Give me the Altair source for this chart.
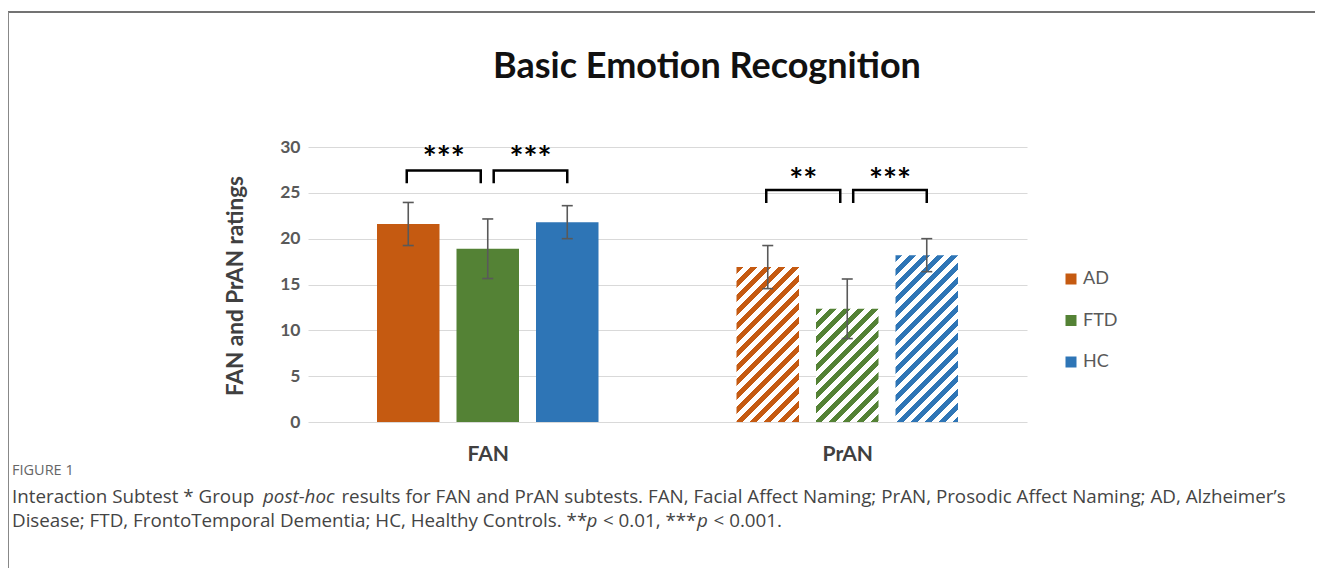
import altair as alt
import pandas as pd

# ---------------- data ----------------
subtests = ["FAN", "PrAN"]
groups = ["AD", "FTD", "HC"]
fan_means = [21.6, 18.9, 21.8]
fan_errors = [2.35, 3.25, 1.8]
pran_means = [16.9, 12.35, 18.2]
pran_errors = [2.35, 3.25, 1.8]
group_colors = ["#C55A11", "#548235", "#2E75B6"]

bracket_pairs = [("AD", "FTD"), ("FTD", "HC")]
fan_stars = ["***", "***"]
pran_stars = ["**", "***"]
bracket_tops = [27.45, 25.3]
bracket_leg = 1.4
star_levels = [29.4, 27.0]
y_ticks = [0, 5, 10, 15, 20, 25, 30]

title_text = "Basic Emotion Recognition"
y_title = "FAN and PrAN ratings"
fig_label = "FIGURE 1"

# ---------------- layout constants ----------------
PLOT_W, PLOT_H = 719, 275
PAD_L, PAD_T = 300, 139
TOTAL_W, TOTAL_H = 1307, 560
OX, OY = 308, 147            # page position of plot origin
BAND_PX = PLOT_W / 2
STEP = 79.5 / BAND_PX
HALF = 31.25 / BAND_PX
CAP = 5.5 / BAND_PX
GAP = 7 / BAND_PX
FONT = "Lato"
CAP_FONT = "Open Sans"

def pos(si, gi):
    return si + (gi - 1) * STEP

rows = []
for si, sub in enumerate(subtests):
    means = fan_means if sub == "FAN" else pran_means
    errs = fan_errors if sub == "FAN" else pran_errors
    for gi, g in enumerate(groups):
        xc = pos(si, gi)
        rows.append(dict(subtest=sub, group=g, mean=means[gi], lo=means[gi] - errs[gi],
                         hi=means[gi] + errs[gi], xc=xc, xl=xc - HALF, xr=xc + HALF,
                         cl=xc - CAP, cr=xc + CAP))
df = pd.DataFrame(rows)

brows, srows = [], []
for si, sub in enumerate(subtests):
    top = bracket_tops[si]
    bot = top - bracket_leg
    stars = fan_stars if sub == "FAN" else pran_stars
    for j, (a, b) in enumerate(bracket_pairs):
        xa = pos(si, groups.index(a)) + (GAP * 0.85 if a == "FTD" else -1.5 / BAND_PX)
        xb = pos(si, groups.index(b)) - (GAP if b == "FTD" else 0)
        bid = f"{sub}{j}"
        for k, (px, py) in enumerate([(xa, bot), (xa, top), (xb, top), (xb, bot)]):
            brows.append(dict(bid=bid, k=k, bx=px, by=py))
        srows.append(dict(sx=(xa + xb) / 2, sy=star_levels[si], txt=stars[j]))
bdf = pd.DataFrame(brows)
sdf = pd.DataFrame(srows)
one = pd.DataFrame({"a": [0]})

# ---------------- scales / axes ----------------
xs = alt.Scale(domain=[-0.5, 1.5], nice=False, zero=False)
ys = alt.Scale(domain=[0, 30], nice=False)
x_axis = alt.Axis(values=[0, 1], labelExpr="datum.value == 0 ? 'FAN' : 'PrAN'", grid=False,
                  domain=False, ticks=False, labelFont=FONT, labelFontSize=21,
                  labelFontWeight="bold", labelColor="#404040", labelPadding=21,
                  labelOverlap=False, title=None)
y_axis = alt.Axis(values=y_ticks, grid=True, gridColor="#d9d9d9", gridWidth=1, domain=False,
                  ticks=False, labelFont=FONT, labelFontSize=17.5, labelFontWeight="bold",
                  labelColor="#595959", labelPadding=8, title=y_title, titleFont=FONT,
                  titleFontSize=22.5, titleFontWeight="bold", titleColor="#404040",
                  titleX=-73, titleY=PLOT_H / 2 + 1, titleAngle=-90, titleAlign="center",
                  titleBaseline="middle")

def X(f):
    return alt.X(f, scale=xs, axis=x_axis)

def Y(f):
    return alt.Y(f, scale=ys, axis=y_axis)

base = alt.Chart(df)

fan_bars = base.transform_filter(alt.datum.subtest == "FAN").mark_bar().encode(
    x=X("xl:Q"), x2="xr:Q", y=Y("mean:Q"), y2=alt.datum(0),
    color=alt.Color("group:N", scale=alt.Scale(domain=groups, range=group_colors),
                    legend=alt.Legend(orient="none", legendX=754, legendY=123, title=None,
                                      symbolType="square", symbolSize=121,
                                      symbolStrokeWidth=0, labelFont=FONT, labelFontSize=18,
                                      labelColor="#595959", rowPadding=23.5, labelOffset=3,
                                      padding=0)))

def stripe_gradient(color, w, h, period=14.0, frac=0.5):
    total = w + h
    c = total / (w * w + h * h)
    stops = []
    k = 0
    while k * period < total:
        a = k * period / total
        b = min((k * period + period * frac) / total, 1.0)
        e = min((k + 1) * period / total, 1.0)
        stops += [alt.GradientStop(offset=a, color=color), alt.GradientStop(offset=b, color=color),
                  alt.GradientStop(offset=b, color="white"), alt.GradientStop(offset=e, color="white")]
        k += 1
    return alt.LinearGradient(gradient="linear", stops=stops, x1=0, y1=0, x2=c * w, y2=c * h)

pran_layers = []
for gi, g in enumerate(groups):
    h_px = pran_means[gi] / 30 * PLOT_H
    grad = stripe_gradient(group_colors[gi], 2 * HALF * BAND_PX, h_px)
    pran_layers.append(
        base.transform_filter((alt.datum.subtest == "PrAN") & (alt.datum.group == g))
        .mark_bar(color=grad)
        .encode(x=X("xl:Q"), x2="xr:Q", y=Y("mean:Q"), y2=alt.datum(0)))

err_col = "#595959"
err_v = base.mark_rule(color=err_col, strokeWidth=1.6).encode(x=X("xc:Q"), y=Y("lo:Q"), y2="hi:Q")
err_hi = base.mark_rule(color=err_col, strokeWidth=1.6).encode(x=X("cl:Q"), x2="cr:Q", y=Y("hi:Q"))
err_lo = base.mark_rule(color=err_col, strokeWidth=1.6).encode(x=X("cl:Q"), x2="cr:Q", y=Y("lo:Q"))

brackets = alt.Chart(bdf).mark_line(color="black", strokeWidth=2.5, strokeJoin="miter").encode(
    x=X("bx:Q"), y=Y("by:Q"), detail="bid:N", order="k:Q")
star_text = alt.Chart(sdf).mark_text(font=FONT, fontSize=33, fontWeight="bold", color="black",
                                     baseline="middle", dy=7).encode(
    x=X("sx:Q"), y=Y("sy:Q"), text="txt:N")

def label(text, px, py, size, color, weight="normal", style="normal", font=CAP_FONT, align="left"):
    return alt.Chart(one).mark_text(align=align, baseline="alphabetic", fontSize=size, font=font,
                                    fontWeight=weight, fontStyle=style, color=color).encode(
        x=alt.value(px - OX), y=alt.value(py - OY), text=alt.value(text))

cap_col = "#444444"
CS = 18.8
R = CS / 16.0
SP = 4.2 * R
l1_a = 12
l1_b = l1_a + 206 * R + SP + 4
l1_c = l1_b + 60 * R + SP + 3
l2_a = 12
l2_b = l2_a + 488 * R + 1
l2_c = l2_b + 9 * R + SP + 1
l2_d = l2_c + 75 * R + 6
l2_e = l2_d + 9 * R + SP + 1

texts = [
    label(title_text, 707, 78, 36, "#111111", weight="bold", font=FONT, align="center"),
    label(fig_label, 12, 475, 14.5, "#666666"),
    label("Interaction Subtest * Group", l1_a, 503, CS, cap_col),
    label("post-hoc", l1_b, 503, CS, cap_col, style="italic"),
    label("results for FAN and PrAN subtests. FAN, Facial Affect Naming; PrAN, Prosodic Affect Naming; AD, Alzheimer\u2019s",
          l1_c, 503, CS, cap_col),
    label("Disease; FTD, FrontoTemporal Dementia; HC, Healthy Controls. **", l2_a, 527, CS, cap_col),
    label("p", l2_b, 527, CS, cap_col, style="italic"),
    label("< 0.01, ***", l2_c, 527, CS, cap_col),
    label("p", l2_d, 527, CS, cap_col, style="italic"),
    label("< 0.001.", l2_e, 527, CS, cap_col),
]

frame_top = alt.Chart(one).mark_rule(color="#444444", strokeWidth=1.5).encode(
    x=alt.value(-PAD_L), x2=alt.value(TOTAL_W - PAD_L), y=alt.value(12 - OY))
frame_left = alt.Chart(one).mark_rule(color="#888888", strokeWidth=1).encode(
    x=alt.value(-PAD_L + 0.5), y=alt.value(12 - OY), y2=alt.value(TOTAL_H - PAD_T))

chart = alt.layer(
    fan_bars, *pran_layers, err_v, err_hi, err_lo, brackets, star_text,
    frame_top, frame_left, *texts
).properties(
    width=PLOT_W, height=PLOT_H,
    background="white",
    autosize=alt.AutoSizeParams(type="none"),
    padding={"left": PAD_L, "top": PAD_T, "right": TOTAL_W - PAD_L - PLOT_W,
             "bottom": TOTAL_H - PAD_T - PLOT_H},
).configure_view(stroke="transparent", strokeWidth=0)

chart.save("out.html", embed_options={"renderer": "svg", "actions": False})
